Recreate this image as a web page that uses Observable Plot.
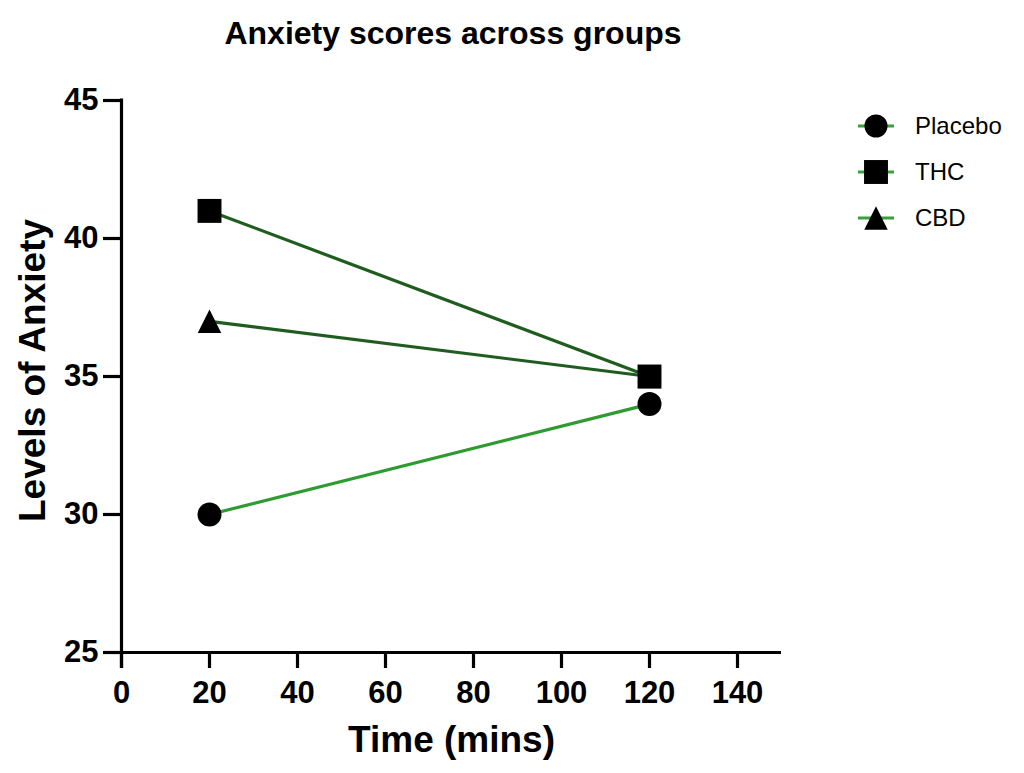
<!DOCTYPE html>
<html>
<head>
<meta charset="utf-8">
<script src="https://cdn.jsdelivr.net/npm/d3@7"></script>
<script src="https://cdn.jsdelivr.net/npm/@observablehq/plot@0.6"></script>
<style>
  html, body { margin: 0; padding: 0; background: #fff; }
  body { width: 1024px; height: 773px; position: relative; overflow: hidden;
         font-family: "Liberation Sans", Arial, Helvetica, sans-serif; }
  #title { position: absolute; left: 0; top: 15px; width: 906px; text-align: center;
           font-size: 32px; font-weight: bold; color: #000; }
  #legend { position: absolute; left: 856px; top: 103px; }
  .row { display: flex; align-items: center; height: 46px; font-size: 24px; color: #000; }
  .row svg { margin-right: 19px; }
  #chart { position: absolute; left: 0; top: 0; }
</style>
</head>
<body>
<div id="chart"></div>
<div id="title">Anxiety scores across groups</div>
<div id="legend"></div>
<script>
// Anxiety scores measured at two time points for each group
const times = [20, 120];
const placebo = [30, 34];
const thc = [41, 35];
const cbd = [37, 35];

const groups = ["Placebo", "THC", "CBD"];
const groupValues = [placebo, thc, cbd];
const groupLineColors = ["#2f9a2f", "#1f5c1f", "#1f5c1f"];
const groupRadius = [12, 13.5, 9.2];
const legendLineColor = "#3aa03a";

const xTicks = [0, 20, 40, 60, 80, 100, 120, 140];
const yTicks = [25, 30, 35, 40, 45];

// Triangle centred on its bounding box (not its centroid), as wide as it is tall
const boxTriangle = {
  draw(context, size) {
    const r = Math.sqrt(size / Math.PI);
    const h = 1.28 * r;
    context.moveTo(0, -h);
    context.lineTo(h, h);
    context.lineTo(-h, h);
    context.closePath();
  }
};
const groupSymbols = [d3.symbolCircle, d3.symbolSquare, boxTriangle];

const rows = groups.flatMap((g, i) =>
  times.map((t, j) => ({group: g, time: t, score: groupValues[i][j]})));

const marks = [];
groups.forEach((g, i) => {
  marks.push(Plot.line(rows.filter(d => d.group === g), {
    x: "time", y: "score", stroke: groupLineColors[i], strokeWidth: 3.2
  }));
});
// CBD markers first so THC's square sits on top where they meet
[2, 0, 1].forEach(i => {
  const g = groups[i];
  marks.push(Plot.dot(rows.filter(d => d.group === g), {
    x: "time", y: "score", symbol: groupSymbols[i], r: groupRadius[i],
    fill: "#000", stroke: "none"
  }));
});

const chart = Plot.plot({
  width: 1024,
  height: 773,
  marginTop: 100,
  marginBottom: 121,
  marginLeft: 121,
  marginRight: 243,
  style: {fontFamily: '"Liberation Sans", Arial, Helvetica, sans-serif', color: "#000", background: "#fff"},
  x: {domain: [0, 150]},
  y: {domain: [25, 45]},
  marks: [
    Plot.axisY({ticks: yTicks, tickSize: 18, tickPadding: 5, strokeWidth: 3.2, fontSize: 31, fontWeight: "bold", label: null}),
    Plot.axisX({ticks: xTicks, tickSize: 16, tickPadding: 12, strokeWidth: 3.2, fontSize: 31, fontWeight: "bold", label: null}),
    Plot.ruleX([0], {y1: 45, y2: 25, stroke: "#000", strokeWidth: 3.2, insetTop: -1.5, insetBottom: -16}),
    Plot.ruleY([25], {x1: 0, x2: 150, stroke: "#000", strokeWidth: 3.2, insetLeft: -18}),
    Plot.text(["Time (mins)"], {frameAnchor: "bottom", dy: 99, fontSize: 37, fontWeight: "bold", fill: "#000"}),
    Plot.text(["Levels of Anxiety"], {frameAnchor: "left", textAnchor: "middle", dx: -88, dy: -6, rotate: -90, fontSize: 37, fontWeight: "bold", fill: "#000"}),
    ...marks
  ]
});
document.getElementById("chart").appendChild(chart);

// Legend: a short line segment with the group's marker, then its name
const legend = document.getElementById("legend");
groups.forEach((g, i) => {
  const row = document.createElement("div");
  row.className = "row";
  const w = 40, h = 30;
  const sym = d3.symbol(groupSymbols[i], Math.PI * groupRadius[i] * groupRadius[i] * (i === 0 ? 0.92 : 1))();
  row.innerHTML = `<svg width="${w}" height="${h}" viewBox="0 0 ${w} ${h}">
    <line x1="2" x2="${w - 2}" y1="${h / 2}" y2="${h / 2}" stroke="${legendLineColor}" stroke-width="3"/>
    <path d="${sym}" transform="translate(${w / 2},${h / 2})" fill="#000"/>
  </svg><span>${g}</span>`;
  legend.appendChild(row);
});
</script>
</body>
</html>
